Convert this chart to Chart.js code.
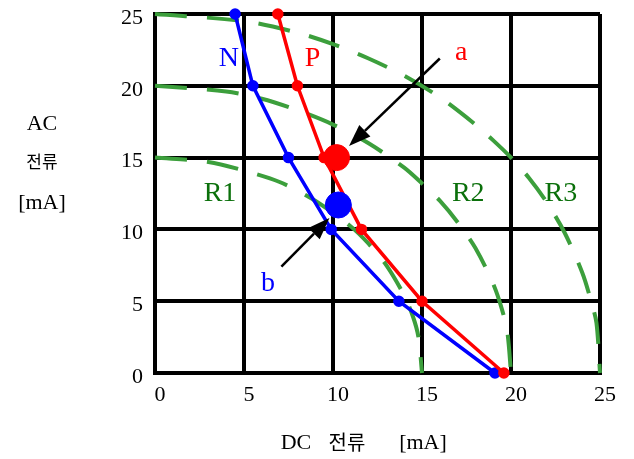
<!DOCTYPE html>
<html>
<head>
<meta charset="utf-8">
<script src="https://cdn.jsdelivr.net/npm/chart.js@4.4.1/dist/chart.umd.min.js"></script>
<style>
  html, body { margin: 0; padding: 0; background: #fff; }
  #wrap { width: 634px; height: 459px; }
</style>
</head>
<body>
<div id="wrap"><canvas id="c" width="634" height="459"></canvas></div>
<script>
// ---- data ----
const axisMin = 0, axisMax = 25, tickStep = 5;
const xTitleParts = ['DC', '전류', '[mA]'];
const yTitleLines = ['AC', '전류', '[mA]'];

// N and P characteristic lines (DC mA, AC mA)
const nCurveX = [4.5, 5.5, 7.5, 9.9, 13.7, 19.1];
const nCurveY = [25, 20, 15, 10, 5, 0];
const pCurveX = [6.9, 8.0, 9.5, 11.6, 15.0, 19.6];
const pCurveY = [25, 20, 15, 10, 5, 0];

// R1, R2, R3 dashed curves
const r1X = [0, 3, 5, 7, 9, 11, 12, 13, 14, 14.5, 14.8, 15];
const r1Y = [15, 14.7, 14.1, 13.3, 12, 10.2, 9, 7.5, 5.4, 3.9, 2.5, 0];
const r2X = [0, 4, 6, 8, 10, 12, 14, 15, 16, 17, 18, 19, 19.5, 19.8, 20];
const r2Y = [20, 19.6, 19.1, 18.3, 17.3, 16, 14.3, 13.2, 12, 10.5, 8.7, 6.2, 4.4, 2.8, 0];
const r3X = [0, 5, 8, 10, 12, 14, 16, 18, 19, 20, 21, 22, 23, 24, 24.5, 24.8, 25];
const r3Y = [25, 24.5, 23.7, 22.9, 21.9, 20.7, 19.2, 17.3, 16.2, 15, 13.6, 11.9, 9.8, 7, 5, 3.5, 0];

// highlighted points a (red) and b (blue)
const pointA = [10.2, 15];
const pointB = [10.3, 11.7];

// arrows: [startX, startY, tipX, tipY]
const arrowA = [16.0, 21.9, 10.9, 15.8];
const arrowB = [7.1, 7.4, 9.8, 10.8];

// text labels
const labelNames = ['N', 'P', 'a', 'b', 'R1', 'R2', 'R3'];
const labelX = [4.15, 8.85, 17.2, 6.35, 3.65, 17.6, 22.8];
const labelY = [21.9, 21.9, 22.3, 6.25, 12.5, 12.5, 12.5];

// ---- helpers ----
const zip = (xs, ys) => xs.map((x, i) => ({ x: x, y: ys[i] }));
const BLUE = '#0000ff', RED = '#ff0000', GREEN = '#3c9f3c', DKGREEN = '#0b700b';
const labelColors = [BLUE, RED, RED, BLUE, DKGREEN, DKGREEN, DKGREEN];
const SERIF = "'Liberation Serif', 'DejaVu Serif', serif";
const KR = "'Noto Sans CJK KR', sans-serif";

const greenStyle = {
  showLine: true, borderColor: GREEN, borderWidth: 4, borderDash: [32, 20],
  pointRadius: 0, tension: 0.3, fill: false, clip: 4, borderCapStyle: 'butt'
};

const overlay = {
  id: 'overlay',
  afterDatasetsDraw(chart) {
    const ctx = chart.ctx, xs = chart.scales.x, ys = chart.scales.y;
    const drawArrow = (a) => {
      const x1 = xs.getPixelForValue(a[0]), y1 = ys.getPixelForValue(a[1]);
      const x2 = xs.getPixelForValue(a[2]), y2 = ys.getPixelForValue(a[3]);
      const ang = Math.atan2(y2 - y1, x2 - x1);
      const hl = 22, hw = 8;
      const bx = x2 - hl * Math.cos(ang), by = y2 - hl * Math.sin(ang);
      ctx.save();
      ctx.strokeStyle = '#000'; ctx.fillStyle = '#000'; ctx.lineWidth = 2.5;
      ctx.beginPath(); ctx.moveTo(x1, y1); ctx.lineTo(bx, by); ctx.stroke();
      ctx.beginPath();
      ctx.moveTo(x2, y2);
      ctx.lineTo(bx + hw * Math.sin(ang), by - hw * Math.cos(ang));
      ctx.lineTo(bx - hw * Math.sin(ang), by + hw * Math.cos(ang));
      ctx.closePath(); ctx.fill();
      ctx.restore();
    };
    drawArrow(arrowA);
    drawArrow(arrowB);
    ctx.save();
    ctx.textAlign = 'center'; ctx.textBaseline = 'middle';
    labelNames.forEach((t, i) => {
      ctx.fillStyle = labelColors[i];
      ctx.font = '28px ' + SERIF;
      ctx.fillText(t, xs.getPixelForValue(labelX[i]), ys.getPixelForValue(labelY[i]));
    });
    ctx.restore();
  },
  afterDraw(chart) {
    const ctx = chart.ctx;
    ctx.save();
    ctx.fillStyle = '#000'; ctx.textAlign = 'center'; ctx.textBaseline = 'middle';
    // y title (horizontal, three lines)
    ctx.font = '22px ' + SERIF;
    ctx.fillText(yTitleLines[0], 42, 124);
    ctx.font = '17px ' + KR;
    ctx.fillText(yTitleLines[1], 42, 162);
    ctx.font = '22px ' + SERIF;
    ctx.fillText(yTitleLines[2], 42, 203);
    // x title
    ctx.font = '22px ' + SERIF;
    ctx.fillText(xTitleParts[0], 296, 443);
    ctx.font = '20px ' + KR;
    ctx.fillText(xTitleParts[1], 347, 442);
    ctx.font = '22px ' + SERIF;
    ctx.fillText(xTitleParts[2], 423, 443);
    ctx.restore();
  }
};

new Chart(document.getElementById('c'), {
  type: 'scatter',
  data: {
    datasets: [
      { data: [{ x: pointA[0], y: pointA[1] }], backgroundColor: RED, borderColor: RED, pointRadius: 13, pointHoverRadius: 13, showLine: false },
      { data: [{ x: pointB[0], y: pointB[1] }], backgroundColor: BLUE, borderColor: BLUE, pointRadius: 13, pointHoverRadius: 13, showLine: false },
      { data: zip(pCurveX, pCurveY), showLine: true, borderColor: RED, backgroundColor: RED, borderWidth: 3.5, pointRadius: 4, tension: 0, clip: 6 },
      { data: zip(nCurveX, nCurveY), showLine: true, borderColor: BLUE, backgroundColor: BLUE, borderWidth: 3.5, pointRadius: 4, tension: 0, clip: 6 },
      Object.assign({ data: zip(r1X, r1Y) }, greenStyle),
      Object.assign({ data: zip(r2X, r2Y) }, greenStyle),
      Object.assign({ data: zip(r3X, r3Y) }, greenStyle)
    ]
  },
  options: {
    responsive: false,
    animation: false,
    events: [],
    layout: { padding: { left: 0, right: 34, top: 13, bottom: 0 } },
    plugins: { legend: { display: false }, tooltip: { enabled: false } },
    scales: {
      x: {
        type: 'linear', min: axisMin, max: axisMax,
        grid: { color: '#000', lineWidth: 4, drawTicks: false },
        border: { display: true, color: '#000', width: 4 },
        ticks: { stepSize: tickStep, color: '#000', padding: 9, labelOffset: 5, font: { family: SERIF, size: 22 } },
        afterFit(s) { s.height = 86; s.paddingLeft = 0; s.paddingRight = 0; }
      },
      y: {
        type: 'linear', min: axisMin, max: axisMax,
        grid: { color: '#000', lineWidth: 4, drawTicks: false },
        border: { display: true, color: '#000', width: 4 },
        ticks: { stepSize: tickStep, color: '#000', padding: 12, labelOffset: 4, font: { family: SERIF, size: 22 } },
        afterFit(s) { s.width = 155; s.paddingTop = 0; s.paddingBottom = 0; }
      }
    }
  },
  plugins: [overlay]
});
</script>
</body>
</html>
